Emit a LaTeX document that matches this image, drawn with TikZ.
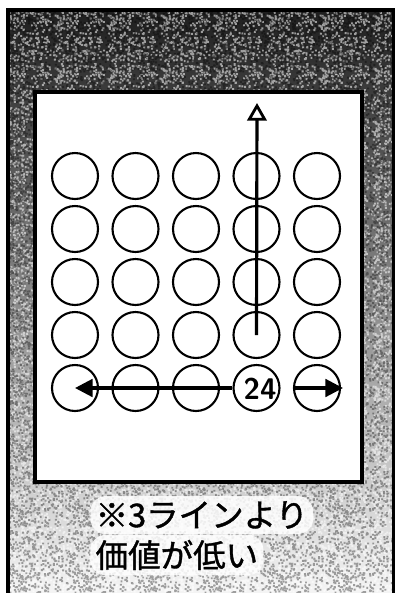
\documentclass[tikz,border=0pt]{standalone}
\usepackage{fontspec}
\newfontfamily\jpfont[FakeBold=1.2]{Noto Sans CJK JP}
\usetikzlibrary{arrows.meta,patterns}
% grain tiles for the screen tone
\pgfdeclarepatternformonly{grainA}{\pgfpointorigin}{\pgfpoint{30pt}{30pt}}{\pgfpoint{30pt}{30pt}}{
  \pgfmathsetseed{7}
  \foreach \i in {1,...,260}{
    \pgfmathsetmacro\gx{29*rnd}\pgfmathsetmacro\gy{29*rnd}
    \pgfpathrectangle{\pgfpoint{\gx pt}{\gy pt}}{\pgfpoint{1.1pt}{1.1pt}}\pgfusepath{fill}
  }
}
\pgfdeclarepatternformonly{grainB}{\pgfpointorigin}{\pgfpoint{37pt}{37pt}}{\pgfpoint{37pt}{37pt}}{
  \pgfmathsetseed{31}
  \foreach \i in {1,...,380}{
    \pgfmathsetmacro\gx{36*rnd}\pgfmathsetmacro\gy{36*rnd}
    \pgfpathrectangle{\pgfpoint{\gx pt}{\gy pt}}{\pgfpoint{1.1pt}{1.1pt}}\pgfusepath{fill}
  }
}
\tikzset{
  spot/.style={circle, draw, line width=1.2pt, minimum size=0.92cm, inner sep=0pt},
  path/.style={line width=1.8pt},
  note/.style={fill=white, fill opacity=0.85, text opacity=1, rounded corners=9pt, inner sep=3pt,
    font=\jpfont\fontsize{18.5}{18.5}\selectfont}
}
\begin{document}
\begin{tikzpicture}[x=0.02cm,y=-0.02cm]
\useasboundingbox (0,0) rectangle (395,593);
% screen tone
\shade[top color=black!88, middle color=black!50, bottom color=black!4] (8,10) rectangle (394,593);
\fill[pattern=grainA, pattern color=white, fill opacity=0.55] (8,10) rectangle (394,593);
\fill[pattern=grainB, pattern color=black, fill opacity=0.35] (8,10) rectangle (394,593);
\draw[line width=1.8pt] (8,593) |- (394,10) -- (394,593);
% board
\draw[fill=white, line width=2.4pt] (35,92) rectangle (362,482);
\foreach \r in {1,...,5}
  \foreach \c in {1,...,5}
    \node[spot] (c\r\c) at ({75+60.5*(\c-1)},{176+53*(\r-1)}) {};
\node[font=\sffamily\bfseries\fontsize{17}{17}\selectfont, inner sep=0pt] (n24) at (260,389) {24};
\coordinate (up) at (257,103);
\coordinate (rtip) at (343,388);
\draw[path, -{Triangle[open, length=10pt, width=11pt, line width=1.6pt]}] (c44.center) -- (up);
\draw[path, -{Triangle[length=10pt, width=10pt]}] (c54.west) -- (c51.center);
\draw[path, -{Triangle[length=10pt, width=10pt]}] (c55.west) -- (rtip);
% caption
\node[note, anchor=west] (t1) at (90,515) {※3ラインより};
\node[note, anchor=west] (t2) at (90,555) {価値が低い};
\end{tikzpicture}
\end{document}
